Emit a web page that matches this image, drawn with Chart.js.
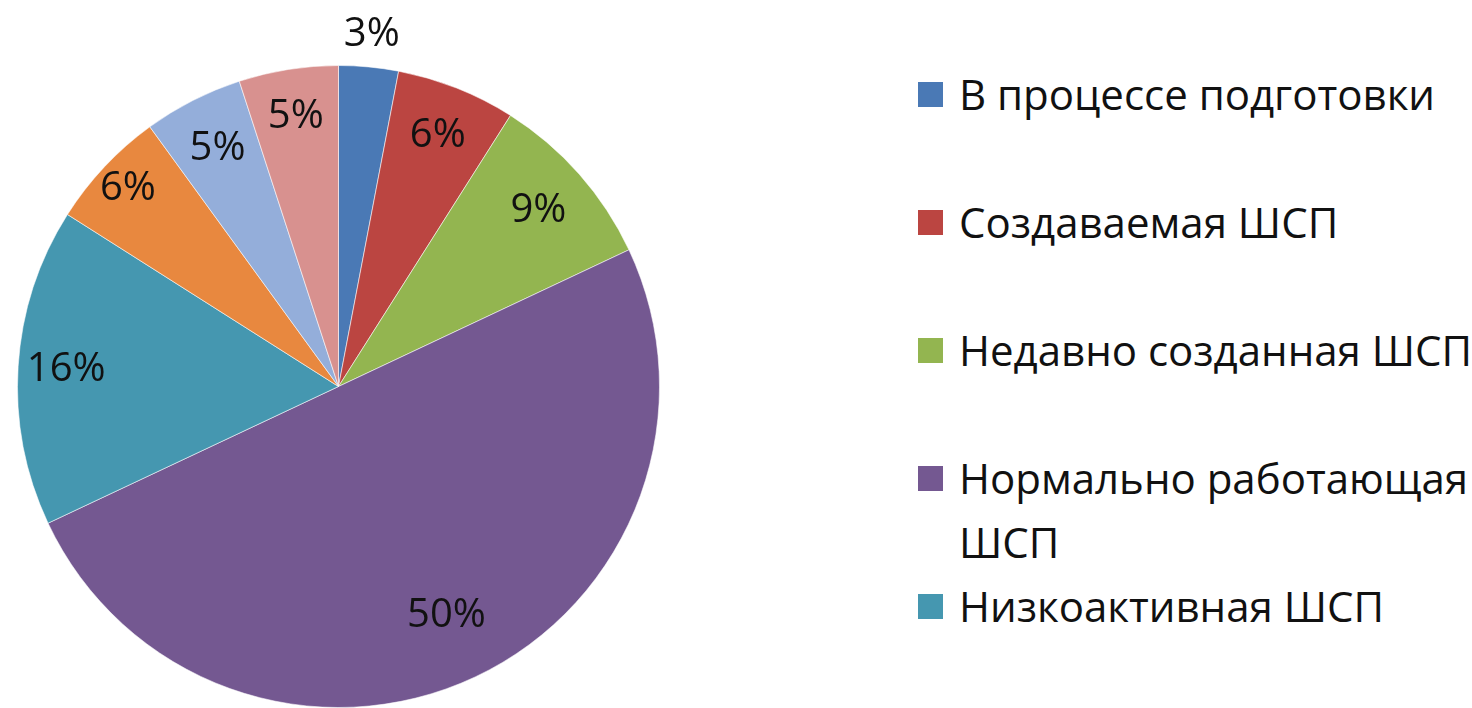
<!DOCTYPE html>
<html>
<head>
<meta charset="utf-8">
<script src="https://cdn.jsdelivr.net/npm/chart.js@4"></script>
<style>
    html, body { margin: 0; padding: 0; background: #fff; }
    #wrap { position: relative; width: 1472px; height: 708px; overflow: hidden; }
    #chartBox { position: absolute; left: 0; top: 0; width: 677px; height: 708px; }
    #legend { position: absolute; left: 918px; top: 62px; width: 580px; font-family: 'Open Sans', sans-serif; font-size: 42px; color: #111; }
    .item { display: flex; align-items: flex-start; line-height: 64px; margin-bottom: 64px; }
    .item.tight { margin-bottom: 0; }
    .box { width: 25px; height: 25px; flex: none; margin-top: 20px; margin-right: 16px; }
</style>
</head>
<body>
<div id="wrap">
    <div id="chartBox"><canvas id="statusPie"></canvas></div>
    <div id="legend"></div>
</div>
<script>
const categories = ['В процессе подготовки', 'Создаваемая ШСП', 'Недавно созданная ШСП', 'Нормально работающая ШСП', 'Низкоактивная ШСП', '', '', ''];
const shares = [3, 6, 9, 50, 16, 6, 5, 5];
const sliceColors = ['#4A79B5', '#BB4541', '#93B550', '#745891', '#4597B0', '#E8883F', '#94AEDA', '#D8918F'];
const legendCount = 5; // only five entries fit in the original legend

// how far out each percent label sits (fraction of radius)
const labelDist = [1.1, 0.84, 0.83, 0.79, 0.85, 0.9, 0.83, 0.85];

const pctLabels = {
    id: 'pctLabels',
    afterDatasetsDraw(chart) {
        const ctx = chart.ctx;
        const meta = chart.getDatasetMeta(0);
        ctx.save();
        ctx.font = '40px "Open Sans", sans-serif';
        ctx.fillStyle = '#111';
        ctx.textAlign = 'center';
        ctx.textBaseline = 'middle';
        meta.data.forEach((arc, i) => {
            const p = arc.getProps(['x', 'y', 'startAngle', 'endAngle', 'outerRadius'], true);
            const mid = (p.startAngle + p.endAngle) / 2;
            const r = p.outerRadius * labelDist[i];
            ctx.fillText(shares[i] + '%', p.x + Math.cos(mid) * r, p.y + Math.sin(mid) * r);
        });
        ctx.restore();
    }
};

const ctx = document.getElementById('statusPie').getContext('2d');
new Chart(ctx, {
    type: 'pie',
    data: {
        labels: categories,
        datasets: [{
            data: shares,
            backgroundColor: sliceColors,
            borderColor: 'rgba(255, 255, 255, 0.55)',
            borderWidth: 1
        }]
    },
    options: {
        responsive: true,
        maintainAspectRatio: false,
        animation: false,
        layout: { padding: { left: 17, right: 17, top: 65, bottom: 0 } },
        plugins: {
            legend: { display: false },
            tooltip: { enabled: false }
        }
    },
    plugins: [pctLabels]
});

// legend built by hand so long names can wrap like the original
const legend = document.getElementById('legend');
for (let i = 0; i < legendCount; i++) {
    const item = document.createElement('div');
    item.className = 'item' + (i >= legendCount - 2 ? ' tight' : '');
    const box = document.createElement('span');
    box.className = 'box';
    box.style.background = sliceColors[i];
    const txt = document.createElement('span');
    txt.textContent = categories[i];
    item.appendChild(box);
    item.appendChild(txt);
    legend.appendChild(item);
}
</script>
</body>
</html>
